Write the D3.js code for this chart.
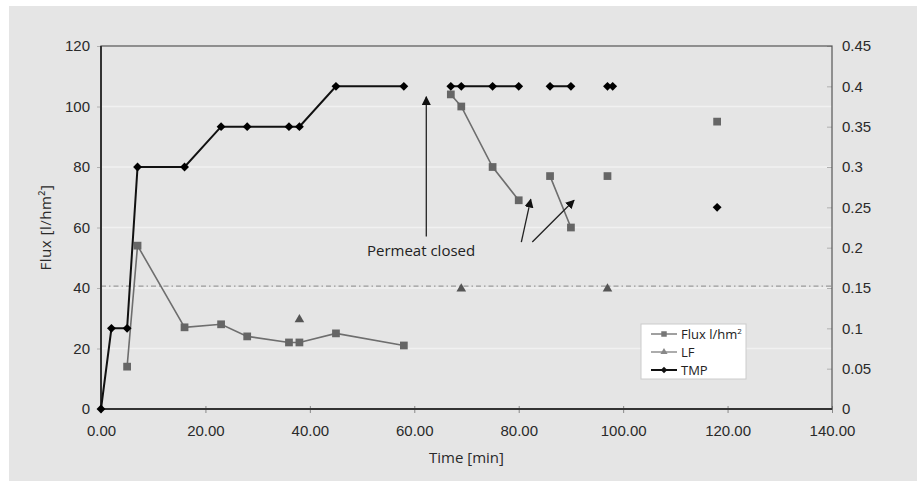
<!DOCTYPE html>
<html>
<head>
<meta charset="utf-8">
<script src="https://cdn.jsdelivr.net/npm/d3@7"></script>
<style>
  body { margin: 0; background: #fff; }
  svg { display: block; font-family: 'Open Sans', sans-serif; }
</style>
</head>
<body>
<svg id="chart" width="923" height="481"></svg>
<script>
// values, null = gap in the line
const fluxTime = [5, 7, 16, 23, 28, 36, 38, 45, 58, null, 67, 69, 75, 80, null, 86, 90, null, 97, null, 118];
const fluxVal = [14, 54, 27, 28, 24, 22, 22, 25, 21, null, 104, 100, 80, 69, null, 77, 60, null, 77, null, 95];

const tmpTime = [0, 2, 5, 7, 16, 23, 28, 36, 38, 45, 58, null, 67, 69, 75, 80, null, 86, 90, null, 97, 98, null, 118];
const tmpVal = [0, 0.1, 0.1, 0.3, 0.3, 0.35, 0.35, 0.35, 0.35, 0.4, 0.4, null, 0.4, 0.4, 0.4, 0.4, null, 0.4, 0.4, null, 0.4, 0.4, null, 0.25];

const lfTime = [38, 69, 97];
const lfVal = [0.111, 0.149, 0.149];

const refLine = 40.6; // dash-dot line, left axis units

const xTicks = [0, 20, 40, 60, 80, 100, 120, 140];
const yTicks = [0, 20, 40, 60, 80, 100, 120];
const y2Ticks = [0, 0.05, 0.1, 0.15, 0.2, 0.25, 0.3, 0.35, 0.4, 0.45];

// arrows: [x1, y1, x2, y2] in time / flux units
const arrows = [
  [62.3, 57, 62.3, 103.2],
  [80.5, 55.2, 82.3, 69.3],
  [82.6, 55.2, 90.6, 69.0]
];
const noteText = 'Permeat closed';
const notePos = [61.3, 50.5];

const svg = d3.select('#chart');
const margin = { left: 101, right: 832, top: 46, bottom: 409 };

const x = d3.scaleLinear().domain([0, 140]).range([margin.left, margin.right]);
const y = d3.scaleLinear().domain([0, 120]).range([margin.bottom, margin.top]);
const y2 = d3.scaleLinear().domain([0, 0.45]).range([margin.bottom, margin.top]);

svg.append('rect').attr('x', 9).attr('y', 6).attr('width', 908).attr('height', 475)
  .attr('fill', '#e5e5e5');

// grid
svg.append('g').selectAll('line').data(yTicks.filter(d => d > 0 && d < 120)).join('line')
  .attr('x1', margin.left).attr('x2', margin.right)
  .attr('y1', d => y(d)).attr('y2', d => y(d))
  .attr('stroke', '#f1f1f1').attr('stroke-width', 1.5);

// dash-dot reference line
svg.append('line')
  .attr('x1', margin.left).attr('x2', margin.right)
  .attr('y1', y(refLine)).attr('y2', y(refLine))
  .attr('stroke', '#9a9a9a').attr('stroke-width', 1.3)
  .attr('stroke-dasharray', '5,3,1.5,3');

// axes
const tickColor = '#b0b0b0';
const labelColor = '#2a2a2a';

const xAxis = svg.append('g').attr('transform', `translate(0,${margin.bottom})`)
  .call(d3.axisBottom(x).tickValues(xTicks).tickFormat(d3.format('.2f')).tickSize(4).tickPadding(12));
xAxis.selectAll('.tick line').attr('stroke', '#888').attr('y1', -3);

const yAxis = svg.append('g').attr('transform', `translate(${margin.left},0)`)
  .call(d3.axisLeft(y).tickValues(yTicks).tickSize(4).tickPadding(7));
yAxis.selectAll('.tick line').attr('stroke', tickColor);

const y2Axis = svg.append('g').attr('transform', `translate(${margin.right},0)`)
  .call(d3.axisRight(y2).tickValues(y2Ticks).tickFormat(d => d3.format('')(+d.toFixed(2))).tickSize(0).tickPadding(10));
y2Axis.selectAll('.tick').append('line').attr('x1', -5).attr('x2', 0).attr('stroke', tickColor);

[xAxis, yAxis, y2Axis].forEach(g => {
  g.select('.domain').remove();
  g.selectAll('text').attr('fill', labelColor).attr('font-size', 15);
});

// frame
svg.append('rect').attr('x', margin.left).attr('y', margin.top)
  .attr('width', margin.right - margin.left).attr('height', margin.bottom - margin.top)
  .attr('fill', 'none').attr('stroke', '#555').attr('stroke-width', 1.2);
svg.append('path')
  .attr('d', `M${margin.left},${margin.top}V${margin.bottom}H${margin.right}`)
  .attr('fill', 'none').attr('stroke', '#333').attr('stroke-width', 2);

// titles
svg.append('text').attr('x', x(70)).attr('y', 463).attr('text-anchor', 'middle')
  .attr('font-size', 15).attr('fill', labelColor).text('Time [min]');
svg.append('text').attr('transform', `translate(51,${y(60)}) rotate(-90)`)
  .attr('text-anchor', 'middle').attr('font-size', 15).attr('fill', labelColor)
  .attr('letter-spacing', 0.5)
  .text('Flux [l/hm²]');

// series
const fluxPts = fluxTime.map((t, i) => ({ t, v: fluxVal[i] }));
const tmpPts = tmpTime.map((t, i) => ({ t, v: tmpVal[i] }));
const lfPts = lfTime.map((t, i) => ({ t, v: lfVal[i] }));

const fluxLine = d3.line().defined(d => d.t !== null).x(d => x(d.t)).y(d => y(d.v));
const tmpLine = d3.line().defined(d => d.t !== null).x(d => x(d.t)).y(d => y2(d.v));

svg.append('path').datum(fluxPts).attr('d', fluxLine)
  .attr('fill', 'none').attr('stroke', '#6e6e6e').attr('stroke-width', 1.6);
svg.append('g').selectAll('path').data(fluxPts.filter(d => d.t !== null)).join('path')
  .attr('transform', d => `translate(${x(d.t)},${y(d.v)})`)
  .attr('d', d3.symbol(d3.symbolSquare, 60))
  .attr('fill', '#666');

svg.append('path').datum(tmpPts).attr('d', tmpLine)
  .attr('fill', 'none').attr('stroke', '#111').attr('stroke-width', 2);
svg.append('g').selectAll('path').data(tmpPts.filter(d => d.t !== null)).join('path')
  .attr('transform', d => `translate(${x(d.t)},${y2(d.v)})`)
  .attr('d', d3.symbol(d3.symbolDiamond2, 50))
  .attr('fill', '#000');

svg.append('g').selectAll('path').data(lfPts).join('path')
  .attr('transform', d => `translate(${x(d.t)},${y2(d.v)})`)
  .attr('d', d3.symbol(d3.symbolTriangle, 40))
  .attr('fill', '#555');

// annotations
const defs = svg.append('defs');
defs.append('marker').attr('id', 'arrow').attr('viewBox', '0 0 10 10')
  .attr('refX', 9).attr('refY', 5).attr('markerWidth', 9).attr('markerHeight', 9)
  .attr('markerUnits', 'userSpaceOnUse').attr('orient', 'auto')
  .append('path').attr('d', 'M0,0L10,5L0,10Z').attr('fill', '#111');

svg.append('g').selectAll('line').data(arrows).join('line')
  .attr('x1', d => x(d[0])).attr('y1', d => y(d[1]))
  .attr('x2', d => x(d[2])).attr('y2', d => y(d[3]))
  .attr('stroke', '#222').attr('stroke-width', 1.3)
  .attr('marker-end', 'url(#arrow)');

svg.append('text').attr('x', x(notePos[0])).attr('y', y(notePos[1]))
  .attr('text-anchor', 'middle').attr('font-size', 15).attr('fill', '#222')
  .text(noteText);

// legend
const lg = svg.append('g').attr('transform', 'translate(641,324)');
lg.append('rect').attr('width', 105).attr('height', 55)
  .attr('fill', '#fff').attr('stroke', '#ccc');
const legendItems = [
  { name: 'Flux l/hm', sup: '2', color: '#777', sym: d3.symbolSquare, size: 30, w: 1.4 },
  { name: 'LF', sup: '', color: '#888', sym: d3.symbolTriangle, size: 22, w: 1.4 },
  { name: 'TMP', sup: '', color: '#111', sym: d3.symbolDiamond2, size: 28, w: 2 }
];
const li = lg.selectAll('g').data(legendItems).join('g')
  .attr('transform', (d, i) => `translate(0,${10 + i * 18})`);
li.append('line').attr('x1', 10).attr('x2', 36).attr('stroke', d => d.color).attr('stroke-width', d => d.w);
li.append('path').attr('transform', 'translate(23,0)').attr('d', d => d3.symbol(d.sym, d.size)()).attr('fill', d => d.color);
const lt = li.append('text').attr('x', 40).attr('dy', '0.35em').attr('font-size', 13).attr('fill', '#222');
lt.append('tspan').text(d => d.name);
lt.append('tspan').attr('font-size', 8).attr('dy', '-0.6em').text(d => d.sup);
</script>
</body>
</html>
